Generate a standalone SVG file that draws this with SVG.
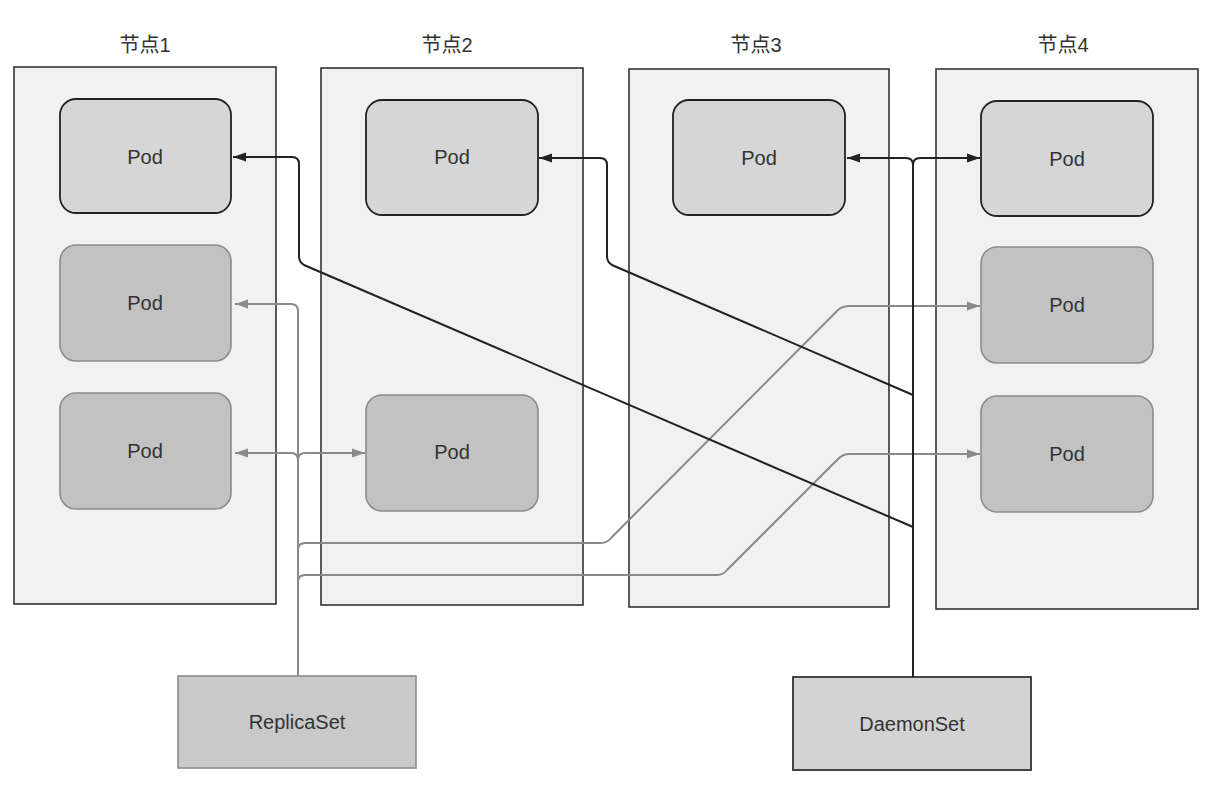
<svg xmlns="http://www.w3.org/2000/svg" width="1220" height="788" viewBox="0 0 1220 788">
<style>
text{font-family:"Liberation Sans","Noto Sans CJK SC",sans-serif;font-size:20px;fill:#333;text-anchor:middle;dominant-baseline:central}
.node{fill:#f1f1f1;stroke:#333;stroke-width:1.6}
.podA{fill:#d6d6d6;stroke:#222;stroke-width:1.8}
.podB{fill:#c2c2c2;stroke:#8c8c8c;stroke-width:1.6}
.rs{fill:#c9c9c9;stroke:#8c8c8c;stroke-width:1.6}
.ds{fill:#d3d3d3;stroke:#333;stroke-width:1.8}
.blk{fill:none;stroke:#222;stroke-width:2}
.gry{fill:none;stroke:#8a8a8a;stroke-width:2}
</style>
<defs>
<marker id="ab" markerUnits="userSpaceOnUse" markerWidth="14" markerHeight="10" refX="13" refY="5" orient="auto"><path d="M0,0.5 L13,5 L0,9.5 z" fill="#222"/></marker>
<marker id="ag" markerUnits="userSpaceOnUse" markerWidth="14" markerHeight="10" refX="13" refY="5" orient="auto"><path d="M0,0.5 L13,5 L0,9.5 z" fill="#8a8a8a"/></marker>
</defs>
<rect width="1220" height="788" fill="#fff"/>
<g id="node1"><text x="145" y="45">节点1</text><rect class="node" x="14" y="67" width="262" height="537"/></g>
<g id="node2"><text x="447" y="45">节点2</text><rect class="node" x="321" y="68" width="262" height="537"/></g>
<g id="node3"><text x="756" y="45">节点3</text><rect class="node" x="629" y="69" width="260" height="538"/></g>
<g id="node4"><text x="1063" y="45">节点4</text><rect class="node" x="936" y="69" width="262" height="540"/></g>
<g id="pod1a"><rect class="podA" x="60" y="99" width="171" height="114" rx="16"/><text x="145" y="157">Pod</text></g>
<g id="pod1b"><rect class="podB" x="60" y="245" width="171" height="116" rx="16"/><text x="145" y="303">Pod</text></g>
<g id="pod1c"><rect class="podB" x="60" y="393" width="171" height="116" rx="16"/><text x="145" y="451">Pod</text></g>
<g id="pod2a"><rect class="podA" x="366" y="100" width="172" height="115" rx="16"/><text x="452" y="157">Pod</text></g>
<g id="pod2c"><rect class="podB" x="366" y="395" width="172" height="116" rx="16"/><text x="452" y="452">Pod</text></g>
<g id="pod3a"><rect class="podA" x="673" y="100" width="172" height="115" rx="16"/><text x="759" y="158">Pod</text></g>
<g id="pod4a"><rect class="podA" x="981" y="101" width="172" height="115" rx="16"/><text x="1067" y="159">Pod</text></g>
<g id="pod4b"><rect class="podB" x="981" y="247" width="172" height="116" rx="16"/><text x="1067" y="305">Pod</text></g>
<g id="pod4c"><rect class="podB" x="981" y="396" width="172" height="116" rx="16"/><text x="1067" y="454">Pod</text></g>
<g id="replicaset"><rect class="rs" x="178" y="676" width="238" height="92"/><text x="297" y="722">ReplicaSet</text></g>
<g id="daemonset"><rect class="ds" x="793" y="677" width="238" height="93"/><text x="912" y="724">DaemonSet</text></g>
<g id="connectors">
<path class="gry" d="M298,676 V311 Q298,304 291,304 H235" marker-end="url(#ag)"/>
<path class="gry" d="M298,460 Q298,453 291,453 H235" marker-end="url(#ag)"/>
<path class="gry" d="M298,460 Q298,453 305,453 H365" marker-end="url(#ag)"/>
<path class="gry" d="M298,550 Q298,543 305,543 H601 Q607,543 611,538 L838,310 Q843,306 849,306 H980" marker-end="url(#ag)"/>
<path class="gry" d="M298,582 Q298,575 305,575 H717 Q723,575 727,570 L838,459 Q843,454 849,454 H980" marker-end="url(#ag)"/>
<path class="blk" d="M913,677 V165 Q913,158 906,158 H847" marker-end="url(#ab)"/>
<path class="blk" d="M913,165 Q913,158 920,158 H980" marker-end="url(#ab)"/>
<path class="blk" d="M913,395 L612,265 Q607,262 607,256 V165 Q607,158 600,158 H539" marker-end="url(#ab)"/>
<path class="blk" d="M913,527 L304,265 Q299,262 299,256 V164 Q299,157 292,157 H233" marker-end="url(#ab)"/>
</g>
</svg>
